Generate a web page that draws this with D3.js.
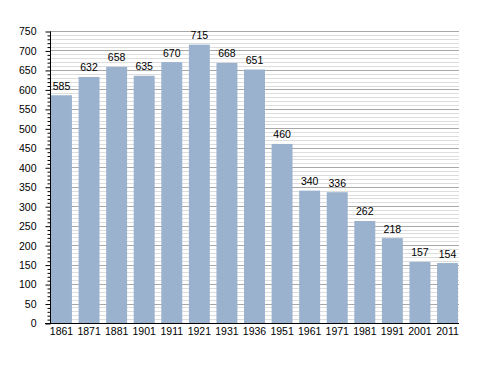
<!DOCTYPE html>
<html>
<head>
<meta charset="utf-8">
<script src="https://cdn.jsdelivr.net/npm/d3@7/dist/d3.min.js"></script>
<style>
  body { margin: 0; background: #fff; }
  svg text { font-family: "Liberation Sans", Arial, sans-serif; font-size: 10.5px; fill: #000; }
</style>
</head>
<body>
<svg id="chart" width="488" height="373"></svg>
<script>
// census years and population
var years  = ["1861","1871","1881","1901","1911","1921","1931","1936","1951","1961","1971","1981","1991","2001","2011"];
var values = [585, 632, 658, 635, 670, 715, 668, 651, 460, 340, 336, 262, 218, 157, 154];
var yTicks = [0, 50, 100, 150, 200, 250, 300, 350, 400, 450, 500, 550, 600, 650, 700, 750];

var svg = d3.select("#chart");

// note: "top" is reserved on window, so plot edges are prefixed
var pLeft = 50, pRight = 459, pTop = 31, pBottom = 323;

var x = d3.scaleBand()
    .domain(years)
    .range([pLeft + 1, pRight - 1])
    .paddingInner(0.24)
    .paddingOuter(0);

var y = d3.scaleLinear()
    .domain([0, 750])
    .range([pBottom, pTop]);

// minor grid every 10
var minor = d3.range(0, 751, 10).filter(function(d) { return d % 50 != 0; });
svg.append("g").selectAll("line")
    .data(minor).enter().append("line")
    .attr("x1", pLeft).attr("x2", pRight)
    .attr("y1", function(d) { return Math.round(y(d)) + 0.5; })
    .attr("y2", function(d) { return Math.round(y(d)) + 0.5; })
    .attr("stroke", "#dddddd").attr("stroke-width", 1);

// major grid
svg.append("g").selectAll("line")
    .data(yTicks.slice(1)).enter().append("line")
    .attr("x1", pLeft).attr("x2", pRight)
    .attr("y1", function(d) { return Math.round(y(d)) + 0.5; })
    .attr("y2", function(d) { return Math.round(y(d)) + 0.5; })
    .attr("stroke", "#a8a8a8").attr("stroke-width", 1);

// bars
svg.append("g").selectAll("rect")
    .data(values).enter().append("rect")
    .attr("x", function(d, i) { return x(years[i]); })
    .attr("width", x.bandwidth())
    .attr("y", function(d) { return y(d); })
    .attr("height", function(d) { return y(0) - y(d); })
    .attr("fill", "#9bb2ce");

// value labels
svg.append("g").selectAll("text")
    .data(values).enter().append("text")
    .attr("x", function(d, i) { return x(years[i]) + x.bandwidth() / 2; })
    .attr("y", function(d) { return y(d) - 5.5; })
    .attr("text-anchor", "middle")
    .text(function(d) { return d; });

// y axis: major + minor ticks
var yAxis = d3.axisLeft(y).tickValues(yTicks).tickSize(5).tickPadding(9);
var gy = svg.append("g").attr("transform", "translate(" + (pLeft + 0.5) + ",0.5)").call(yAxis);
gy.select(".domain").attr("stroke", "#000").attr("d", "M0," + pTop + "V" + pBottom);
gy.selectAll(".tick line").attr("stroke", "#000");
gy.selectAll(".tick text").attr("font-family", null).attr("font-size", null);

var gm = svg.append("g").attr("transform", "translate(" + (pLeft + 0.5) + ",0.5)")
    .call(d3.axisLeft(y).tickValues(minor).tickSize(3).tickFormat(""));
gm.select(".domain").remove();
gm.selectAll(".tick line").attr("stroke", "#000");

// x axis
var xAxis = d3.axisBottom(x).tickSize(0).tickPadding(4);
var gx = svg.append("g").attr("transform", "translate(0," + (pBottom + 0.5) + ")").call(xAxis);
gx.select(".domain").attr("stroke", "#000").attr("d", "M" + (pLeft - 5) + ",0H" + pRight);
gx.selectAll(".tick text").attr("font-family", null).attr("font-size", null);
</script>
</body>
</html>
